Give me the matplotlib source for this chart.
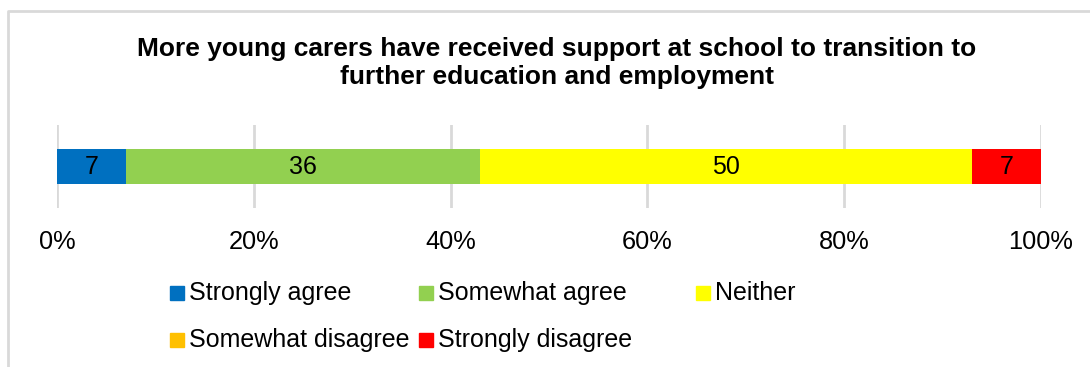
import matplotlib
matplotlib.use("Agg")
import matplotlib.pyplot as plt
from matplotlib.lines import Line2D
from matplotlib.patches import Rectangle

plt.rcParams["font.family"] = ["Liberation Sans", "DejaVu Sans"]

title = ("More young carers have received support at school to transition to\n"
         "further education and employment")
categories = ["Strongly agree", "Somewhat agree", "Neither",
              "Somewhat disagree", "Strongly disagree"]
values = [7, 36, 50, 0, 7]
colors = ["#0070C0", "#92D050", "#FFFF00", "#FFC000", "#FF0000"]
ticks = [0, 20, 40, 60, 80, 100]

W, H = 1090, 367
fig = plt.figure(figsize=(W / 100, H / 100), dpi=100)
ax = fig.add_axes([57 / W, 1 - 208 / H, (1041 - 57) / W, (208 - 125) / H])

# stacked horizontal bar, one segment per response
left = 0
for cat, val, col in zip(categories, values, colors):
    ax.barh(0, val, left=left, height=0.41, color=col, label=cat, zorder=2)
    if val > 0:
        ax.text(left + val / 2, 0, str(val), ha="center", va="center",
                fontsize=18, color="black", zorder=3)
    left += val

ax.set_xlim(0, 100)
ax.set_ylim(-0.5, 0.5)
ax.set_xticks(ticks)
ax.set_xticklabels([f"{t}%" for t in ticks], fontsize=18.3)
ax.tick_params(axis="x", length=0, pad=16)
ax.set_yticks([])
ax.grid(axis="x", color="#d9d9d9", linewidth=2, zorder=0)
for s in ax.spines.values():
    s.set_visible(False)

fig.text(557 / W, 1 - 63 / H, title, ha="center", va="center",
         fontsize=19, fontweight="bold", linespacing=1.22)

# legend laid out in two rows
legend_pos = [(170, 293), (419, 293), (696, 293), (170, 340), (419, 340)]
for (x, y), cat, col in zip(legend_pos, categories, colors):
    fig.add_artist(Rectangle((x / W, 1 - (y + 7) / H), 14 / W, 14 / H,
                             transform=fig.transFigure, color=col))
    fig.text((x + 19) / W, 1 - y / H, cat, ha="left", va="center", fontsize=18)

# chart frame (top and left edges)
fig.add_artist(Line2D([8 / W, 8 / W, 1], [0, 1 - 11 / H, 1 - 11 / H],
                      transform=fig.transFigure, color="#d9d9d9", linewidth=2))

fig.savefig("out.png", dpi=100)
